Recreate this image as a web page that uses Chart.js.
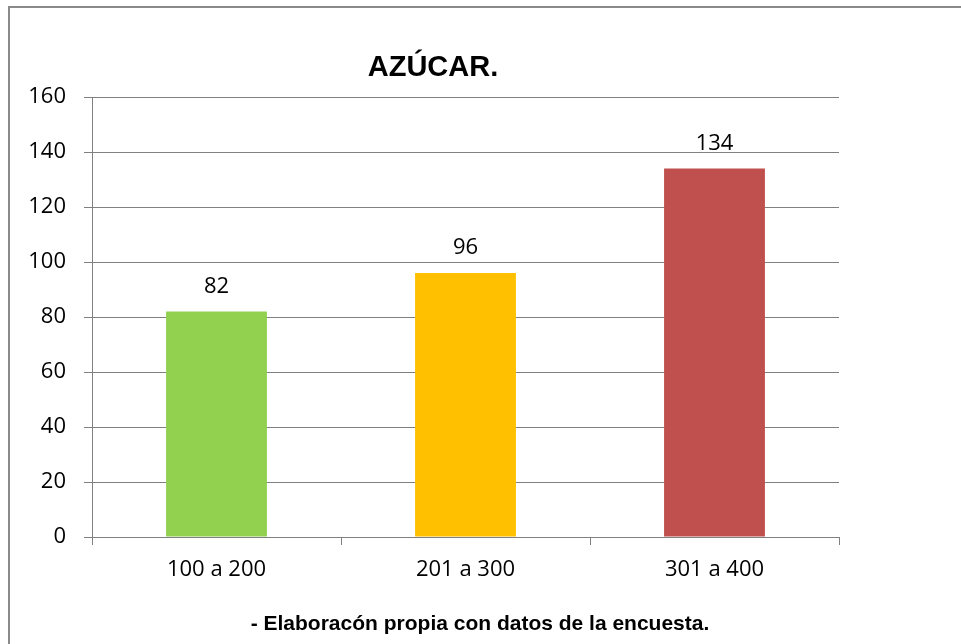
<!DOCTYPE html>
<html>
<head>
<meta charset="utf-8">
<script src="https://cdn.jsdelivr.net/npm/chart.js@4/dist/chart.umd.min.js"></script>
<style>
  html, body { margin: 0; padding: 0; background: #fff; }
  #wrap { width: 961px; height: 644px; }
</style>
</head>
<body>
<div id="wrap"><canvas id="myChart" width="961" height="644"></canvas></div>
<script>
// data
const categories = ["100 a 200", "201 a 300", "301 a 400"];
const values = [82, 96, 134];
const barColors = ["#92D050", "#FFC000", "#C0504D"];
const yTicks = [0, 20, 40, 60, 80, 100, 120, 140, 160];

const titleText = "AZÚCAR.";
const footerText = "- Elaboracón propia con datos de la encuesta.";

const gridColor = "#808080";
const tickFont = { family: "'Open Sans'", size: 22 };

// white background, outer frame, title and footer
const decorations = {
  id: "decorations",
  beforeDraw(chart) {
    const c = chart.ctx;
    c.save();
    c.fillStyle = "#fff";
    c.fillRect(0, 0, chart.width, chart.height);
    c.strokeStyle = "#8a8a8a";
    c.lineWidth = 2;
    c.strokeRect(9, 7, 1200, 1200);
    c.restore();
  },
  afterDraw(chart) {
    const c = chart.ctx;
    c.save();
    c.fillStyle = "#000";
    c.textAlign = "center";
    c.textBaseline = "alphabetic";
    c.font = "bold 29px 'Liberation Sans', Arial";
    c.fillText(titleText, 433, 76);
    c.font = "bold 21px 'Liberation Sans', Arial";
    c.fillText(footerText, 480, 630);
    c.restore();
  }
};

// value labels above the bars
const valueLabels = {
  id: "valueLabels",
  afterDatasetsDraw(chart) {
    const c = chart.ctx;
    const meta = chart.getDatasetMeta(0);
    c.save();
    c.fillStyle = "#000";
    c.textAlign = "center";
    c.textBaseline = "alphabetic";
    c.font = "22px 'Open Sans'";
    meta.data.forEach((bar, i) => {
      c.fillText(String(values[i]), bar.x, bar.y - 19);
    });
    c.restore();
  }
};

const ctx = document.getElementById("myChart").getContext("2d");
const myChart = new Chart(ctx, {
  type: "bar",
  data: {
    labels: categories,
    datasets: [
      {
        data: values,
        backgroundColor: barColors,
        borderWidth: 0,
        categoryPercentage: 1,
        barPercentage: 0.405,
      },
    ],
  },
  options: {
    responsive: false,
    animation: false,
    layout: { padding: { left: 0, right: 122, top: 97, bottom: 0 } },
    plugins: {
      legend: { display: false },
      tooltip: { enabled: false },
      title: { display: false },
    },
    scales: {
      x: {
        grid: {
          drawOnChartArea: false,
          color: gridColor,
          tickLength: 8,
          offset: true,
        },
        border: { display: true, color: gridColor },
        ticks: { color: "#000", font: tickFont, padding: 12, maxRotation: 0 },
        afterFit(scale) { scale.height = 107; },
      },
      y: {
        min: 0,
        max: 160,
        grid: { color: gridColor, tickLength: 8 },
        border: { display: true, color: gridColor },
        afterBuildTicks(scale) { scale.ticks = yTicks.map(v => ({ value: v })); },
        ticks: { color: "#000", font: tickFont, padding: 18 },
        afterFit(scale) { scale.width = 92; },
      },
    },
  },
  plugins: [decorations, valueLabels],
});
</script>
</body>
</html>
